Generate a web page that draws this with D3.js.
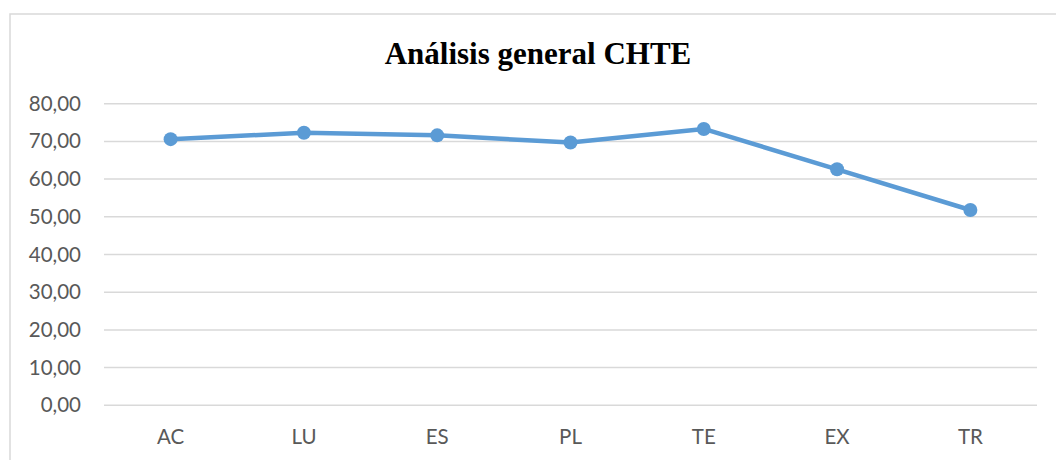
<!DOCTYPE html>
<html>
<head>
<meta charset="utf-8">
<script src="https://cdn.jsdelivr.net/npm/d3@7"></script>
<style>
  html, body { margin: 0; padding: 0; background: #fff; }
  svg { display: block; }
</style>
</head>
<body>
<svg id="chart" width="1056" height="460"></svg>
<script>
// DATA
const categories = ["AC", "LU", "ES", "PL", "TE", "EX", "TR"];
const values = [70.6, 72.3, 71.6, 69.7, 73.3, 62.6, 51.8];
const yTicks = [0, 10, 20, 30, 40, 50, 60, 70, 80];
const title = "Análisis general CHTE";

const svg = d3.select("#chart");
const margin = { top: 103.7, right: 19, bottom: 54.7, left: 104 };
const width = +svg.attr("width"),
  height = +svg.attr("height");

// chart frame (runs off right / bottom edge)
svg.append("rect")
  .attr("x", 10)
  .attr("y", 14)
  .attr("width", 1100)
  .attr("height", 500)
  .attr("fill", "#fff")
  .attr("stroke", "#d9d9d9")
  .attr("stroke-width", 1.5);

svg.append("text")
  .attr("x", 538)
  .attr("y", 64)
  .attr("text-anchor", "middle")
  .attr("font-family", "'Liberation Serif', 'Times New Roman', serif")
  .attr("font-weight", "bold")
  .attr("font-size", 31)
  .attr("fill", "#000")
  .text(title);

const x = d3.scaleBand()
  .domain(categories)
  .range([margin.left, width - margin.right])
  .paddingInner(0)
  .paddingOuter(0);

const y = d3.scaleLinear()
  .domain([0, 80])
  .range([height - margin.bottom, margin.top]);

const locale = d3.formatLocale({ decimal: ",", thousands: ".", grouping: [3], currency: ["", "€"] });
const fmt = locale.format(".2f");

// gridlines
svg.append("g")
  .selectAll("line")
  .data(yTicks)
  .join("line")
  .attr("x1", margin.left)
  .attr("x2", width - margin.right)
  .attr("y1", (d) => y(d))
  .attr("y2", (d) => y(d))
  .attr("stroke", "#d9d9d9")
  .attr("stroke-width", 1.5);

// y axis
const gy = svg.append("g")
  .attr("transform", `translate(${margin.left - 23},0)`)
  .call(d3.axisLeft(y).tickValues(yTicks).tickFormat(fmt).tickSize(0).tickPadding(0));
gy.select(".domain").remove();
gy.selectAll("text")
  .attr("font-family", "Lato, 'Open Sans', sans-serif")
  .attr("font-size", 20.5)
  .attr("fill", "#595959");

// x axis
const gx = svg.append("g")
  .attr("transform", `translate(0,${height - margin.bottom})`)
  .call(d3.axisBottom(x).tickSize(0).tickPadding(24));
gx.select(".domain").remove();
gx.selectAll("text")
  .attr("font-family", "Lato, 'Open Sans', sans-serif")
  .attr("font-size", 20.5)
  .attr("fill", "#595959");

const data = categories.map((c, i) => ({ cat: c, value: values[i] }));
const cx = (d) => x(d.cat) + x.bandwidth() / 2;

const line = d3.line()
  .x(cx)
  .y((d) => y(d.value));

svg.append("path")
  .datum(data)
  .attr("d", line)
  .attr("fill", "none")
  .attr("stroke", "#5b9bd5")
  .attr("stroke-width", 4.5)
  .attr("stroke-linejoin", "round")
  .attr("stroke-linecap", "round");

svg.append("g")
  .selectAll("circle")
  .data(data)
  .join("circle")
  .attr("cx", cx)
  .attr("cy", (d) => y(d.value))
  .attr("r", 7)
  .attr("fill", "#5b9bd5");
</script>
</body>
</html>
